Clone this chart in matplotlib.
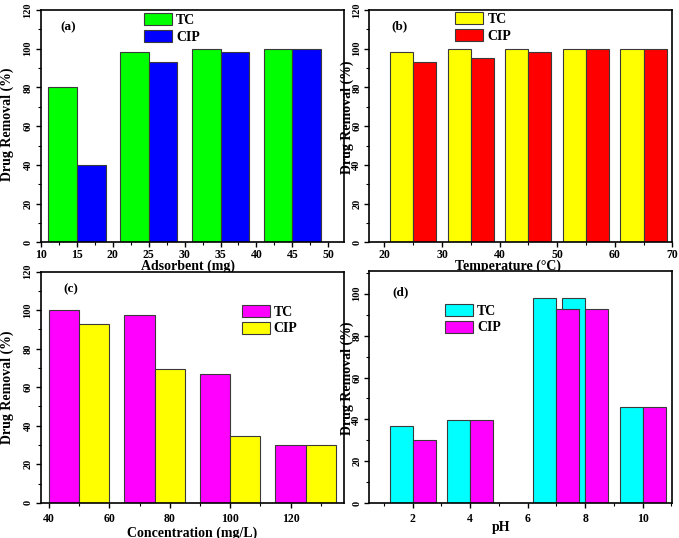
import matplotlib
matplotlib.use("Agg")
import matplotlib.pyplot as plt
from matplotlib.ticker import MultipleLocator

plt.rcParams['font.family'] = ['Liberation Serif', 'DejaVu Serif']
plt.rcParams['font.weight'] = 'bold'

# ---- data ----
ads = [15, 25, 35, 45]
ads_tc = [80, 98.3, 100, 100]
ads_cip = [40, 93, 98.3, 100]

temp = [25, 35, 45, 55, 65]
temp_tc = [98.3, 100, 100, 100, 100]
temp_cip = [93, 95, 98.3, 100, 100]

conc = [50, 75, 100, 125]
conc_tc = [100, 97.6, 66.7, 29.8]
conc_cip = [92.6, 69.6, 34.5, 29.8]

ph = [2, 4, 7, 8, 10]
ph_tc = [36.8, 39.8, 97.9, 97.9, 45.7]
ph_cip = [30, 39.8, 92.9, 92.9, 45.7]

series_names = ['TC', 'CIP']

W, H = 679, 538
fig = plt.figure(figsize=(W / 100, H / 100), dpi=100)


def add_ax(l, r, t, b):
    return fig.add_axes([l / W, 1 - b / H, (r - l) / W, (b - t) / H])


axa = add_ax(41, 344, 10, 242.3)
axb = add_ax(369.5, 672.3, 10, 242.3)
axc = add_ax(41, 344, 271.5, 502.9)
axd = add_ax(369.5, 672.3, 271, 503.3)

EC = '#3a3a3a'


def style(ax, xlim, ylim, xmaj, xmin, ymaj, ymin, xpad):
    ax.set_xlim(*xlim)
    ax.set_ylim(*ylim)
    ax.xaxis.set_major_locator(MultipleLocator(xmaj))
    ax.xaxis.set_minor_locator(MultipleLocator(xmin))
    ax.yaxis.set_major_locator(MultipleLocator(ymaj))
    ax.yaxis.set_minor_locator(MultipleLocator(ymin))
    ax.tick_params(which='major', direction='out', length=3.5, width=1.0,
                   top=False, right=False)
    ax.tick_params(which='minor', direction='out', length=2, width=0.8,
                   top=False, right=False)
    ax.tick_params(axis='x', labelsize=8.5, pad=xpad)
    ax.tick_params(axis='y', labelsize=7.5, pad=2.5, labelrotation=90)
    for lab in ax.get_yticklabels():
        lab.set_va('center')
    for s in ax.spines.values():
        s.set_linewidth(1.2)


def legend(ax, handles, x, y, fs=10):
    ax.legend(handles, series_names, loc='upper left', bbox_to_anchor=(x, y),
              frameon=False, borderpad=0, borderaxespad=0,
              handlelength=2.0, handleheight=0.95, handletextpad=0.3,
              labelspacing=0.2, prop={'weight': 'bold', 'size': fs})


# (a)
b1 = axa.bar(ads, ads_tc, width=-4, align='edge', color='#00ff00', edgecolor=EC, linewidth=0.8)
b2 = axa.bar(ads, ads_cip, width=4, align='edge', color='#0000ff', edgecolor=EC, linewidth=0.8)
style(axa, (10, 52.2), (0, 120), 5, 2.5, 20, 10, 1)
axa.set_xlabel('Adsorbent (mg)', fontsize=10, fontweight='bold')
axa.set_ylabel('Drug Removal (%)', fontsize=10, fontweight='bold')
axa.xaxis.set_label_coords(0.485, -0.072)
axa.yaxis.set_label_coords(-0.088, 0.51)
axa.text(0.064, 0.924, '(a)', transform=axa.transAxes, ha='left', va='center', fontsize=9.5, fontweight='bold')
legend(axa, [b1, b2], 0.34, 0.985)

# (b)
b1 = axb.bar(temp, temp_tc, width=-4, align='edge', color='#ffff00', edgecolor=EC, linewidth=0.8)
b2 = axb.bar(temp, temp_cip, width=4, align='edge', color='#ff0000', edgecolor=EC, linewidth=0.8)
style(axb, (17.4, 70), (0, 120), 10, 5, 20, 10, 1)
axb.set_xlabel('Temperature (°C)', fontsize=10, fontweight='bold')
axb.set_ylabel('Drug Removal (%)', fontsize=10, fontweight='bold')
axb.xaxis.set_label_coords(0.458, -0.072)
axb.yaxis.set_label_coords(-0.051, 0.54)
axb.text(0.072, 0.931, '(b)', transform=axb.transAxes, ha='left', va='center', fontsize=9.5, fontweight='bold')
legend(axb, [b1, b2], 0.284, 0.99)

# (c)
b1 = axc.bar(conc, conc_tc, width=-10, align='edge', color='#ff00ff', edgecolor=EC, linewidth=0.8)
b2 = axc.bar(conc, conc_cip, width=10, align='edge', color='#ffff00', edgecolor=EC, linewidth=0.8)
style(axc, (37.35, 137.7), (0, 120), 20, 10, 20, 10, 4)
axc.set_xlabel('Concentration (mg/L)', fontsize=10, fontweight='bold')
axc.set_ylabel('Drug Removal (%)', fontsize=10, fontweight='bold')
axc.xaxis.set_label_coords(0.5, -0.1)
axc.yaxis.set_label_coords(-0.088, 0.5)
axc.text(0.074, 0.923, '(c)', transform=axc.transAxes, ha='left', va='center', fontsize=9.5, fontweight='bold')
legend(axc, [b1, b2], 0.663, 0.855)

# (d)
b1 = axd.bar(ph, ph_tc, width=-0.8, align='edge', color='#00ffff', edgecolor=EC, linewidth=0.8)
b2 = axd.bar(ph, ph_cip, width=0.8, align='edge', color='#ff00ff', edgecolor=EC, linewidth=0.8)
style(axd, (0.5, 11.03), (0, 110.8), 2, 1, 20, 10, 3.5)
axd.set_xlabel('pH', fontsize=10, fontweight='bold')
axd.set_ylabel('Drug Removal (%)', fontsize=10, fontweight='bold')
axd.xaxis.set_label_coords(0.433, -0.075)
axd.yaxis.set_label_coords(-0.051, 0.54)
axd.text(0.076, 0.907, '(d)', transform=axd.transAxes, ha='left', va='center', fontsize=9.5, fontweight='bold')
legend(axd, [b1, b2], 0.25, 0.858)

fig.savefig('out.png', dpi=100)
